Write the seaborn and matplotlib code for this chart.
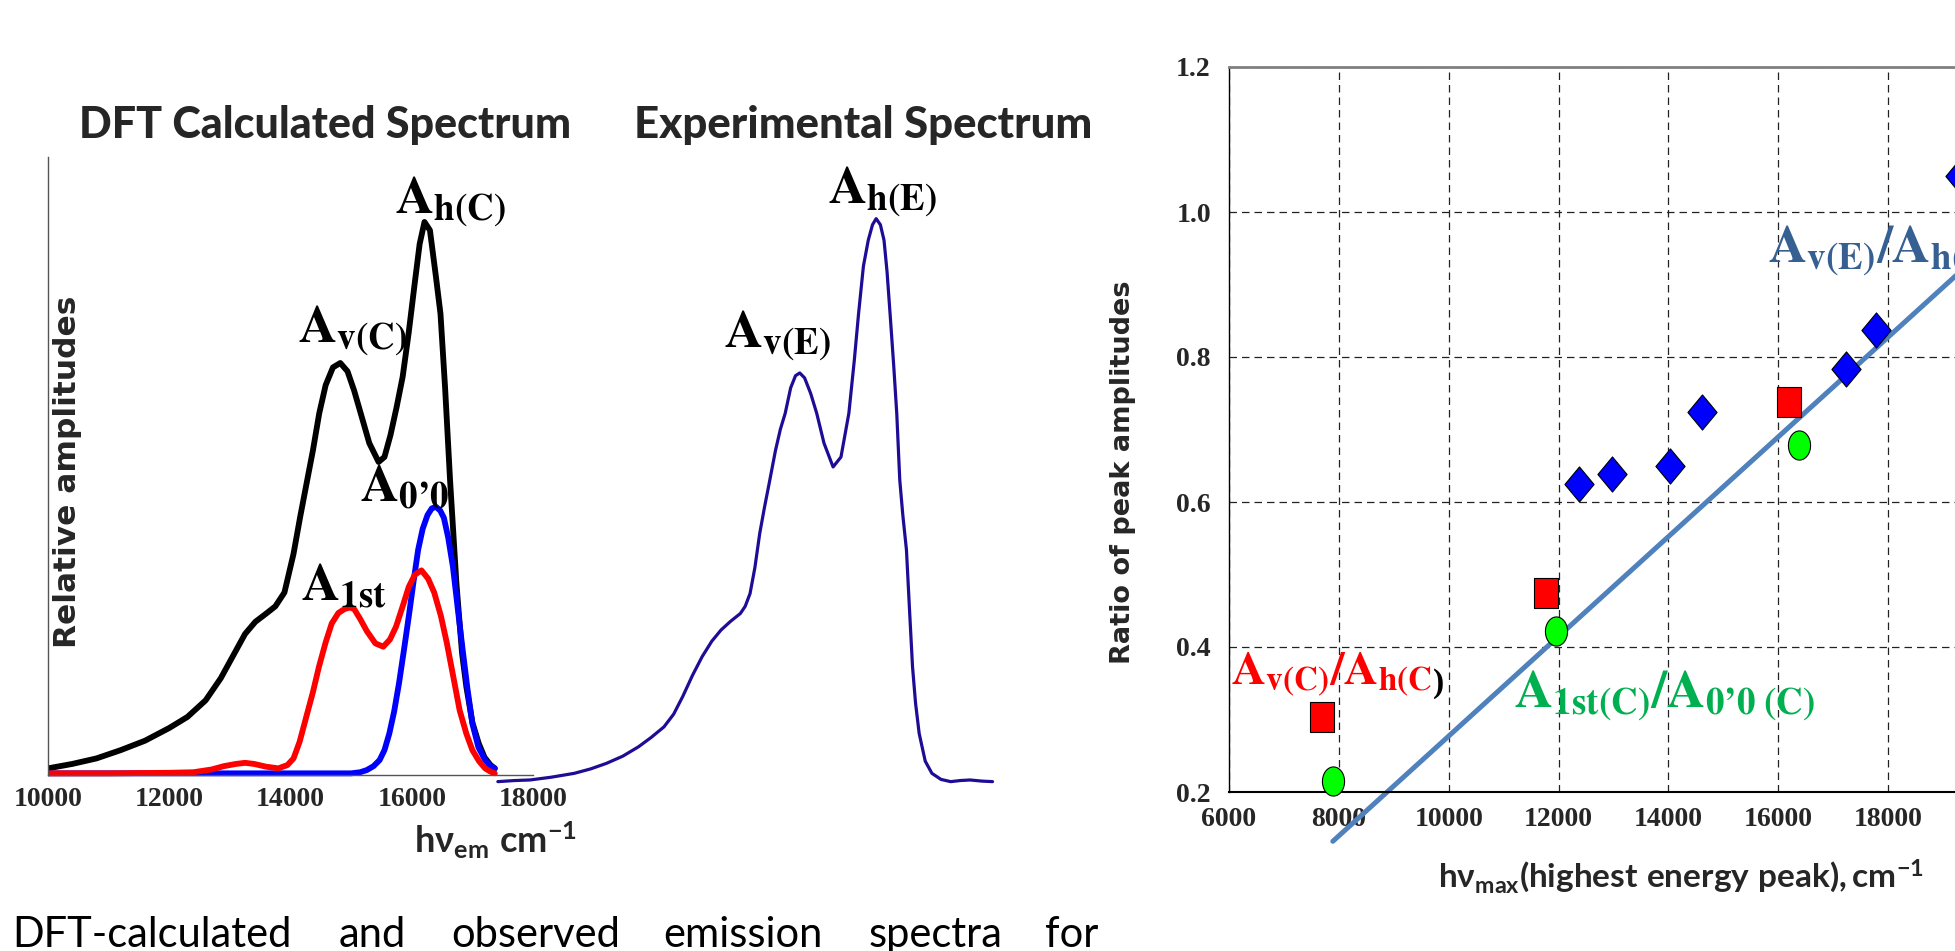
import matplotlib
matplotlib.use("Agg")
import matplotlib.pyplot as plt
import seaborn as sns
import numpy as np
from matplotlib.path import Path

# ── Left panel: DFT calculated spectrum (wavenumber cm-1, relative amplitude) ──
total_x = [10000, 10400, 10800, 11200, 11600, 12000, 12300, 12600, 12850, 13050,
           13250, 13420, 13600, 13750, 13900, 14050, 14160, 14270, 14370, 14474,
           14580, 14700, 14821, 14940, 15050, 15158, 15300, 15453, 15550, 15650,
           15750, 15850, 15950, 16050, 16130, 16210, 16300, 16400, 16474, 16550,
           16632, 16737, 16830, 16900, 17000, 17105, 17200, 17300, 17370]
total_y = [0.012, 0.020, 0.030, 0.045, 0.062, 0.085, 0.105, 0.135, 0.175, 0.215,
           0.255, 0.277, 0.292, 0.305, 0.330, 0.400, 0.467, 0.530, 0.587, 0.654,
           0.705, 0.737, 0.745, 0.730, 0.695, 0.654, 0.600, 0.566, 0.575, 0.615,
           0.665, 0.720, 0.800, 0.890, 0.960, 1.000, 0.985, 0.900, 0.834, 0.700,
           0.533, 0.346, 0.220, 0.160, 0.095, 0.057, 0.032, 0.018, 0.012]

first_x = [10000, 11000, 12000, 12400, 12700, 12900, 13100, 13250, 13400, 13600,
           13800, 13950, 14050, 14150, 14260, 14370, 14470, 14580, 14680, 14790,
           14890, 14980, 15050, 15150, 15260, 15400, 15530, 15640, 15740, 15850,
           15950, 16050, 16160, 16270, 16370, 16480, 16580, 16690, 16790, 16900,
           17000, 17110, 17210, 17300, 17370]
first_y = [0.003, 0.003, 0.004, 0.005, 0.010, 0.016, 0.020, 0.022, 0.020, 0.015,
           0.012, 0.018, 0.030, 0.060, 0.105, 0.150, 0.196, 0.240, 0.274, 0.293,
           0.300, 0.303, 0.300, 0.282, 0.260, 0.238, 0.232, 0.245, 0.268, 0.305,
           0.340, 0.362, 0.370, 0.355, 0.330, 0.288, 0.238, 0.175, 0.117, 0.075,
           0.045, 0.025, 0.012, 0.006, 0.003]

zero_x = [10000, 12000, 14000, 15000, 15150, 15260, 15370, 15470, 15550, 15630,
          15710, 15790, 15870, 15950, 16030, 16105, 16180, 16260, 16330, 16400,
          16470, 16530, 16600, 16680, 16760, 16840, 16920, 17000, 17100, 17210,
          17300, 17370]
zero_y = [0.003, 0.003, 0.003, 0.003, 0.005, 0.009, 0.016, 0.027, 0.045, 0.075,
          0.115, 0.166, 0.225, 0.286, 0.350, 0.407, 0.445, 0.470, 0.482, 0.485,
          0.478, 0.465, 0.430, 0.376, 0.300, 0.226, 0.155, 0.093, 0.050, 0.027,
          0.016, 0.012]

# experimental spectrum, drawn to the right of the calculated one
exp_x = [17420, 17700, 17950, 18300, 18680, 18950, 19210, 19480, 19740, 19950,
         20160, 20320, 20470, 20630, 20790, 20950, 21100, 21260, 21420, 21500,
         21580, 21660, 21740, 21820, 21895, 22000, 22080, 22160, 22250, 22330,
         22400, 22480, 22580, 22680, 22800, 22950, 23080, 23210, 23300, 23370,
         23450, 23530, 23600, 23660, 23730, 23790, 23840, 23890, 23950, 24000,
         24050, 24100, 24160, 24210, 24260, 24310, 24370, 24470, 24580, 24730,
         24890, 25050, 25210, 25400, 25580]
exp_y = [-0.012, -0.010, -0.009, -0.004, 0.003, 0.011, 0.021, 0.034, 0.051, 0.068,
         0.087, 0.110, 0.142, 0.180, 0.214, 0.242, 0.262, 0.278, 0.292, 0.305,
         0.328, 0.375, 0.437, 0.485, 0.527, 0.587, 0.625, 0.654, 0.700, 0.722,
         0.727, 0.718, 0.690, 0.654, 0.600, 0.557, 0.575, 0.654, 0.750, 0.834,
         0.920, 0.967, 0.995, 1.006, 0.995, 0.967, 0.910, 0.834, 0.740, 0.654,
         0.533, 0.470, 0.407, 0.300, 0.196, 0.130, 0.075, 0.025, 0.003, -0.008,
         -0.012, -0.010, -0.009, -0.011, -0.012]

left_ticks = [10000, 12000, 14000, 16000, 18000]

# ── Right panel: ratio of peak amplitudes vs highest energy peak ──────────────
ratio_exp_x = [12370, 12980, 14030, 14620, 17230, 17780, 19300]
ratio_exp_y = [0.625, 0.639, 0.650, 0.724, 0.783, 0.837, 1.049]
ratio_vh_x = [7690, 11780, 16190]
ratio_vh_y = [0.303, 0.474, 0.738]
ratio_1st_x = [7890, 11950, 16380]
ratio_1st_y = [0.215, 0.422, 0.679]
fit_x = [7890, 20000]
fit_y = [0.132, 0.965]

right_xticks = [6000, 8000, 10000, 12000, 14000, 16000, 18000, 20000]
right_yticks = [0.2, 0.4, 0.6, 0.8, 1.0, 1.2]

caption_words = ["DFT-calculated", "and", "observed", "emission", "spectra", "for"]


def main():
    sns.set_theme(style="white")
    plt.rcParams["font.family"] = ["DejaVu Sans"]
    plt.rcParams["mathtext.fontset"] = "custom"
    plt.rcParams["mathtext.rm"] = "Lato:bold"
    plt.rcParams["mathtext.it"] = "Lato:bold"
    plt.rcParams["mathtext.bf"] = "Lato:bold"
    plt.rcParams["mathtext.fallback"] = "stixsans"

    W, H = 1955, 951
    fig = plt.figure(figsize=(W / 100, H / 100), dpi=100)
    fig.patch.set_facecolor("white")

    _left_panel(fig, W, H)
    _right_panel(fig, W, H)

    # caption line (justified words)
    word_px = [12, 339, 451, 663, 869, 1045]
    for word, px in zip(caption_words, word_px):
        fig.text(px / W, 1 - 947 / H, word, family="Lato", fontsize=30,
                 ha="left", va="baseline", color="black")

    fig.savefig("out.png", dpi=100, facecolor="white")
    plt.close(fig)


def _left_panel(fig, W, H):
    x0, x1 = 48, 1018
    y_top, y_bot = 155.6, 802.65
    ax = fig.add_axes([x0 / W, 1 - y_bot / H, (x1 - x0) / W, (y_bot - y_top) / H])
    ax.set_facecolor("none")

    sns.lineplot(x=total_x, y=total_y, ax=ax, color="black", lw=4.2,
                 sort=False, estimator=None)
    sns.lineplot(x=zero_x, y=zero_y, ax=ax, color="#0000FF", lw=4.2,
                 sort=False, estimator=None)
    sns.lineplot(x=first_x, y=first_y, ax=ax, color="#FF0000", lw=4.2,
                 sort=False, estimator=None)
    sns.lineplot(x=exp_x, y=exp_y, ax=ax, color="#1E0C96", lw=2.3,
                 sort=False, estimator=None)

    ax.set_xlim(10000, 26000)
    ax.set_ylim(-0.05, 1.12)
    for s in ["top", "right"]:
        ax.spines[s].set_visible(False)
    ax.spines["left"].set_bounds(0, 1.117)
    ax.spines["left"].set_color("#555555")
    ax.spines["left"].set_linewidth(1.0)
    ax.spines["bottom"].set_position(("data", 0))
    ax.spines["bottom"].set_bounds(10000, 18000)
    ax.spines["bottom"].set_color("#555555")
    ax.spines["bottom"].set_linewidth(1.0)
    ax.set_xticks(left_ticks)
    ax.set_xticklabels([str(t) for t in left_ticks], family="Liberation Serif",
                       fontweight="bold", fontsize=20)
    ax.set_yticks([])
    ax.tick_params(axis="x", length=0, pad=9)
    ax.set_xlabel("")
    ax.set_ylabel("")

    ax.text((68 - x0) / (x1 - x0), (y_bot - 472) / (y_bot - y_top), "Relative amplitudes",
            transform=ax.transAxes, rotation=90, ha="center", va="center",
            fontsize=22.5, fontweight="bold", family="DejaVu Sans")
    ax.text((496 - x0) / (x1 - x0), (y_bot - 853) / (y_bot - y_top),
            r"$\mathbf{h\nu_{em}\ cm^{-1}}$", transform=ax.transAxes,
            ha="center", va="baseline", fontsize=26, math_fontfamily="custom")

    # titles
    fig.text(79 / W, 1 - 138 / H, "DFT Calculated Spectrum", family="Lato",
             fontweight="black", fontsize=31, ha="left", va="baseline")
    fig.text(634 / W, 1 - 138 / H, "Experimental Spectrum", family="Lato",
             fontweight="black", fontsize=31.5, ha="left", va="baseline")

    # peak labels
    peak_labels = [
        (15724, 1.016, r"$\mathbf{A_{h(C)}}$"),
        (14124, 0.783, r"$\mathbf{A_{v(C)}}$"),
        (15146, 0.494, r"$\mathbf{A_{0’0}}$"),
        (14173, 0.316, r"$\mathbf{A_{1st}}$"),
        (22866, 1.034, r"$\mathbf{A_{h(E)}}$"),
        (21150, 0.774, r"$\mathbf{A_{v(E)}}$"),
    ]
    for x, y, s in peak_labels:
        ax.text(x, y, s, fontsize=38, ha="left", va="baseline",
                math_fontfamily="stix", color="black")


def _right_panel(fig, W, H):
    x0, x1 = 1229, 1998
    y_top, y_bot = 67, 792
    ax = fig.add_axes([x0 / W, 1 - y_bot / H, (x1 - x0) / W, (y_bot - y_top) / H])
    ax.set_facecolor("none")
    ax.set_xlim(6000, 20000)
    ax.set_ylim(0.2, 1.2)

    ax.set_xticks(right_xticks)
    ax.set_xticklabels([str(t) for t in right_xticks], family="Liberation Serif",
                       fontweight="bold", fontsize=20)
    ax.set_yticks(right_yticks)
    ax.set_yticklabels([f"{t:.1f}" for t in right_yticks], family="Liberation Serif",
                       fontweight="bold", fontsize=20)
    ax.tick_params(axis="x", length=0, pad=11)
    ax.tick_params(axis="y", length=0, pad=13)
    ax.grid(True, color="#222222", lw=0.9, ls=(0, (6, 4)))
    ax.set_axisbelow(True)

    ax.spines["top"].set_color("#808080")
    ax.spines["top"].set_linewidth(2.0)
    ax.spines["left"].set_color("black")
    ax.spines["left"].set_linewidth(1.0)
    ax.spines["bottom"].set_color("black")
    ax.spines["bottom"].set_linewidth(1.5)
    ax.spines["right"].set_color("#808080")

    # fitted line
    sns.lineplot(x=fit_x, y=fit_y, ax=ax, color="#4F81BD", lw=3.6,
                 sort=False, estimator=None)
    for line in ax.lines:
        line.set_clip_on(False)

    diamond = Path([(0, 1), (0.83, 0), (0, -1), (-0.83, 0), (0, 1)], closed=True)
    square = Path([(-0.8, -1), (0.8, -1), (0.8, 1), (-0.8, 1), (-0.8, -1)], closed=True)
    t = np.linspace(0, 2 * np.pi, 60)
    ellipse = Path(np.column_stack([0.76 * np.cos(t), np.sin(t)]), closed=True)

    sns.scatterplot(x=ratio_exp_x, y=ratio_exp_y, ax=ax, marker=diamond, s=640,
                    color="#0000FF", edgecolor="black", linewidth=0.8, zorder=5,
                    clip_on=False)
    sns.scatterplot(x=ratio_vh_x, y=ratio_vh_y, ax=ax, marker=square, s=440,
                    color="#FF0000", edgecolor="black", linewidth=0.8, zorder=5,
                    clip_on=False)
    sns.scatterplot(x=ratio_1st_x, y=ratio_1st_y, ax=ax, marker=ellipse, s=440,
                    color="#00FF00", edgecolor="black", linewidth=0.8, zorder=5,
                    clip_on=False)

    ax.set_xlabel("")
    ax.set_ylabel("")
    ax.text((1123 - x0) / (x1 - x0), (y_bot - 472) / (y_bot - y_top),
            "Ratio of peak amplitudes", transform=ax.transAxes, rotation=90,
            ha="center", va="center", fontsize=19.5, fontweight="bold",
            family="DejaVu Sans")
    ax.text((1681 - x0) / (x1 - x0), (y_bot - 888) / (y_bot - y_top),
            r"$\mathbf{h\nu_{max}(highest\ energy\ peak), cm^{-1}}$",
            transform=ax.transAxes, ha="center", va="baseline", fontsize=24,
            math_fontfamily="custom")

    # series labels
    ax.text(15813, 0.931, r"$\mathbf{A_{v(E)}/A_{h(E)}}$", fontsize=38,
            color="#376092", ha="left", va="baseline", math_fontfamily="stix",
            zorder=6)
    red = ax.text(6036, 0.348, r"$\mathbf{A_{v(C)}/A_{h(C}}$", fontsize=34,
                  color="#FF0000", ha="left", va="baseline", math_fontfamily="stix",
                  zorder=6)
    ax.annotate(")", xy=(1, 0), xycoords=red, ha="left", va="bottom",
                fontsize=24, fontweight="bold", family="Liberation Serif",
                color="black", zorder=6)
    ax.text(11188, 0.317, r"$\mathbf{A_{1st(C)}/A_{0’0\ (C)}}$", fontsize=38,
            color="#00B050", ha="left", va="baseline", math_fontfamily="stix",
            zorder=6)


if __name__ == "__main__":
    main()
